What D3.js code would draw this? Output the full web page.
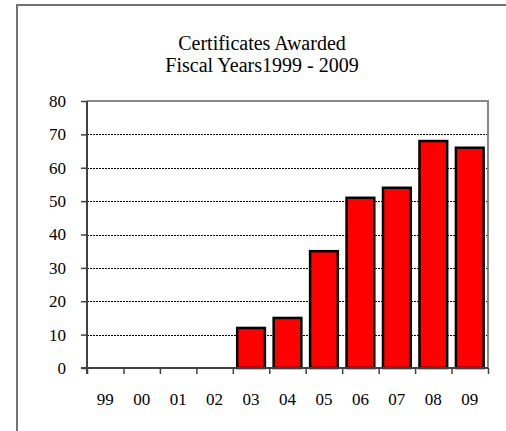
<!DOCTYPE html>
<meta charset="utf-8">
<script src="https://d3js.org/d3.v7.min.js"></script>
<style>
  html, body { margin: 0; background: #fff; overflow: hidden; }
  svg { display: block; font-family: "Liberation Serif", serif; }
</style>
<body>
<div id="chart"></div>
<script>
  // chart data
  var years = ["99", "00", "01", "02", "03", "04", "05", "06", "07", "08", "09"];
  var certificates = [0, 0, 0, 0, 12, 15, 35, 51, 54, 68, 66];
  var yTicks = [0, 10, 20, 30, 40, 50, 60, 70, 80];
  var titleLines = ["Certificates Awarded", "Fiscal Years1999 - 2009"];

  var W = 506, H = 431;
  var plot = {left: 87, right: 488, top: 101, bottom: 368};

  var svg = d3.select("#chart").append("svg")
    .attr("width", W)
    .attr("height", H);

  // outer chart frame (only left and top edges fall inside the picture)
  svg.append("path")
    .attr("d", "M17," + H + "V5H" + W)
    .attr("fill", "none")
    .attr("stroke", "#737373")
    .attr("stroke-width", 2);

  // title
  svg.append("g").selectAll("text")
    .data(titleLines)
    .enter().append("text")
      .attr("x", 262)
      .attr("y", function(d, i) { return 50 + i * 22; })
      .attr("text-anchor", "middle")
      .attr("font-size", 20)
      .attr("font-family", "Liberation Serif")
      .attr("fill", "#000")
      .text(function(d) { return d; });

  // scales
  var x = d3.scaleBand()
    .domain(years)
    .range([plot.left, plot.right])
    .paddingInner(0.24)
    .paddingOuter(0.12);
  var xLabel = d3.scaleBand()
    .domain(years)
    .range([plot.left, plot.right]);
  var xEdge = d3.scaleLinear()
    .domain([0, years.length])
    .range([plot.left, plot.right]);
  var y = d3.scaleLinear()
    .domain([0, 80])
    .range([plot.bottom, plot.top]);

  // dotted gridlines
  svg.append("g").selectAll("line")
    .data(yTicks.filter(function(v) { return v > 0 && v < 80; }))
    .enter().append("line")
      .attr("x1", plot.left).attr("x2", plot.right)
      .attr("y1", function(d) { return Math.round(y(d)) + 0.5; })
      .attr("y2", function(d) { return Math.round(y(d)) + 0.5; })
      .attr("stroke", "#000")
      .attr("stroke-width", 1)
      .attr("stroke-dasharray", "2,1");

  // plot area border (top + right)
  svg.append("path")
    .attr("d", "M" + plot.left + "," + plot.top + "H" + plot.right + "V" + plot.bottom)
    .attr("fill", "none")
    .attr("stroke", "#888")
    .attr("stroke-width", 2);

  // bars
  svg.append("g").selectAll("rect")
    .data(years.map(function(yr, i) { return {year: yr, value: certificates[i]}; })
      .filter(function(d) { return d.value > 0; }))
    .enter().append("rect")
      .attr("x", function(d) { return x(d.year); })
      .attr("y", function(d) { return y(d.value); })
      .attr("width", x.bandwidth())
      .attr("height", function(d) { return y(0) - y(d.value); })
      .attr("fill", "#ff0000")
      .attr("stroke", "#000")
      .attr("stroke-width", 2.5);

  // y axis
  var yAxis = svg.append("g")
    .attr("transform", "translate(" + plot.left + ",0)")
    .call(d3.axisLeft(y).tickValues(yTicks).tickSize(6).tickPadding(15).tickSizeOuter(0));
  yAxis.select(".domain").attr("stroke", "#404040").attr("stroke-width", 2)
    .attr("d", "M0," + plot.top + "V" + (plot.bottom + 6));
  yAxis.selectAll(".tick line").attr("stroke", "#404040").attr("stroke-width", 1.5);
  yAxis.selectAll("text").attr("font-size", 17).attr("font-family", "Liberation Serif").attr("fill", "#000");

  // x axis tick marks at category edges
  var xTicks = svg.append("g")
    .attr("transform", "translate(0," + plot.bottom + ")")
    .call(d3.axisBottom(xEdge).tickValues(d3.range(years.length + 1)).tickSize(6).tickFormat("").tickSizeOuter(0));
  xTicks.select(".domain").attr("stroke", "#404040").attr("stroke-width", 2)
    .attr("d", "M" + (plot.left - 6) + ",0H" + plot.right);
  xTicks.selectAll(".tick line").attr("stroke", "#404040").attr("stroke-width", 1.5);

  // x axis labels
  var xAxis = svg.append("g")
    .attr("transform", "translate(0," + plot.bottom + ")")
    .call(d3.axisBottom(xLabel).tickSize(0).tickPadding(25));
  xAxis.select(".domain").remove();
  xAxis.selectAll("text").attr("font-size", 17).attr("font-family", "Liberation Serif").attr("fill", "#000");
</script>
</body>
